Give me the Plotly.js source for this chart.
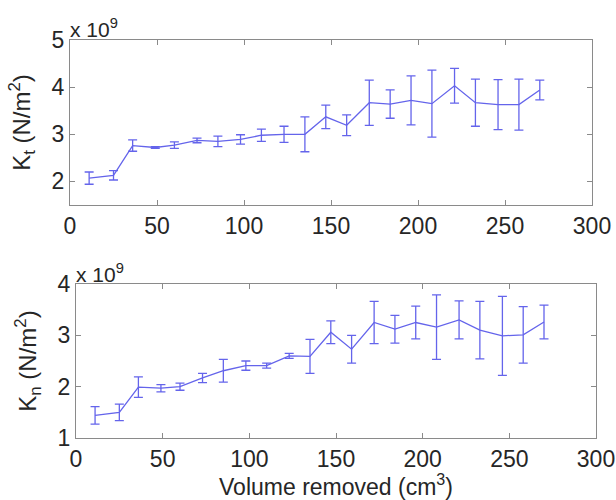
<!DOCTYPE html>
<html>
<head>
<meta charset="utf-8">
<script src="https://cdn.plot.ly/plotly-3.0.1.min.js"></script>
<style>
  html, body { margin: 0; padding: 0; background: #fff; }
  #chart { width: 616px; height: 500px; }
</style>
</head>
<body>
<div id="chart"></div>
<script>
// Volume removed at each measurement step (cm^3)
const volumeRemoved = [11, 25, 36, 49, 60, 73, 85, 98, 110, 123, 135, 147, 159, 172, 184, 196, 208, 221, 233, 246, 258, 270];

// Tangential stiffness K_t, mean and half-range (x 10^9 N/m^2)
const ktMean = [2.07, 2.13, 2.76, 2.72, 2.77, 2.87, 2.85, 2.89, 2.98, 3.00, 3.00, 3.37, 3.19, 3.67, 3.64, 3.72, 3.65, 4.03, 3.67, 3.63, 3.63, 3.94];
const ktErr  = [0.13, 0.10, 0.12, 0.02, 0.07, 0.05, 0.11, 0.10, 0.13, 0.17, 0.37, 0.25, 0.22, 0.48, 0.30, 0.52, 0.71, 0.37, 0.50, 0.53, 0.54, 0.21];

// Normal stiffness K_n, mean and half-range (x 10^9 N/m^2)
const knMean = [1.44, 1.50, 1.99, 1.97, 2.00, 2.17, 2.31, 2.41, 2.41, 2.60, 2.59, 3.06, 2.73, 3.25, 3.12, 3.25, 3.16, 3.30, 3.10, 2.99, 3.01, 3.26];
const knErr  = [0.17, 0.16, 0.20, 0.07, 0.07, 0.09, 0.22, 0.09, 0.05, 0.05, 0.33, 0.22, 0.27, 0.41, 0.27, 0.32, 0.63, 0.37, 0.56, 0.77, 0.55, 0.33];

const xTicks = [0, 50, 100, 150, 200, 250, 300];
const ktTicks = [2, 3, 4, 5];
const knTicks = [1, 2, 3, 4];

const lineColor = 'rgb(100, 100, 235)';
const axisColor = '#8a8a8a';
const textColor = '#262626';
const family = 'Liberation Sans, Arial, sans-serif';
const tickFont = { family: family, size: 23, color: textColor };
const titleFont = { family: family, size: 24, color: textColor };
const xTitleFont = { family: family, size: 23, color: textColor };
const expFont = { family: family, size: 21, color: textColor };

function series(y, err, xa, ya) {
  return {
    type: 'scatter', mode: 'lines',
    x: volumeRemoved, y: y, xaxis: xa, yaxis: ya,
    line: { color: lineColor, width: 1.3 },
    error_y: { type: 'data', array: err, visible: true, color: lineColor, thickness: 1.3, width: 4.5 },
    hoverinfo: 'skip', showlegend: false
  };
}

function axis(extra) {
  return Object.assign({
    showline: true, linecolor: axisColor, linewidth: 1, mirror: 'allticks',
    ticks: 'inside', ticklen: 5, tickcolor: axisColor, tickwidth: 1,
    showgrid: false, zeroline: false, tickfont: tickFont, fixedrange: true
  }, extra);
}

const data = [
  series(ktMean, ktErr, 'x', 'y'),
  series(knMean, knErr, 'x2', 'y2')
];

const layout = {
  width: 616, height: 500,
  margin: { l: 0, r: 0, t: 0, b: 0 },
  paper_bgcolor: '#fff', plot_bgcolor: '#fff',
  font: tickFont,
  xaxis: axis({ domain: [70 / 616, 592 / 616], anchor: 'y', range: [0, 300], tickvals: xTicks }),
  yaxis: axis({ domain: [1 - 205 / 500, 1 - 40 / 500], anchor: 'x', range: [1.5, 5], tickvals: ktTicks,
    title: { text: 'K<sub>t</sub> (N/m<sup>2</sup>)', font: titleFont, standoff: 14 } }),
  xaxis2: axis({ domain: [76 / 616, 596 / 616], anchor: 'y2', range: [0, 300], tickvals: xTicks,
    title: { text: 'Volume removed (cm<sup>3</sup>)', font: xTitleFont, standoff: 2 } }),
  yaxis2: axis({ domain: [1 - 438 / 500, 1 - 284 / 500], anchor: 'x2', range: [1, 4], tickvals: knTicks,
    title: { text: 'K<sub>n</sub> (N/m<sup>2</sup>)', font: titleFont, standoff: 14 } }),
  annotations: [
    { text: 'x 10<sup>9</sup>', xref: 'paper', yref: 'paper', x: 68 / 616, y: 1 - 43 / 500,
      xanchor: 'left', yanchor: 'bottom', showarrow: false, font: expFont },
    { text: 'x 10<sup>9</sup>', xref: 'paper', yref: 'paper', x: 74 / 616, y: 1 - 288 / 500,
      xanchor: 'left', yanchor: 'bottom', showarrow: false, font: expFont }
  ]
};

Plotly.newPlot('chart', data, layout, { staticPlot: true, displayModeBar: false });
</script>
</body>
</html>
